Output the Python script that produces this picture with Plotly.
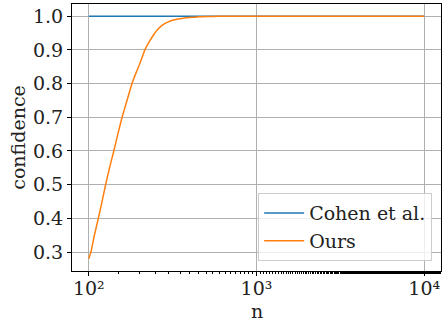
import plotly.graph_objects as go

n_ours = [100, 103, 108, 114, 120, 126, 133, 141, 149, 158, 169, 181, 190, 200, 208, 216, 228, 241, 255, 271, 287, 304, 325, 348, 373, 400, 428, 457, 500, 550, 620, 700, 850, 1000, 3000, 10000]
conf_ours = [0.28, 0.30, 0.35, 0.40, 0.45, 0.50, 0.55, 0.60, 0.65, 0.70, 0.75, 0.80, 0.828, 0.855, 0.878, 0.90, 0.922, 0.941, 0.958, 0.971, 0.979, 0.985, 0.989, 0.992, 0.9945, 0.996, 0.997, 0.998, 0.9987, 0.9992, 0.9996, 0.9998, 0.9999, 0.9999, 0.9999, 0.9999]
n_cohen = [100, 1000, 10000]
conf_cohen = [0.9995, 0.9995, 0.9995]
x_tickvals = [100, 1000, 10000]
x_ticktext = ["10²", "10³", "10⁴"]
y_tickvals = [0.3, 0.4, 0.5, 0.6, 0.7, 0.8, 0.9, 1.0]

fig = go.Figure()
fig.add_trace(go.Scatter(x=n_cohen, y=conf_cohen, mode="lines", name="Cohen et al.",
                         line=dict(color="#1f77b4", width=1.5)))
fig.add_trace(go.Scatter(x=n_ours, y=conf_ours, mode="lines", name="Ours",
                         line=dict(color="#ff7f0e", width=1.5, shape="spline", smoothing=0.3)))

font = dict(family="DejaVu Serif", size=19, color="#222")
fig.update_layout(
    width=442, height=322,
    margin=dict(l=72, r=1, t=4, b=51),
    paper_bgcolor="white", plot_bgcolor="white",
    font=font,
    showlegend=True,
    legend=dict(x=0.976, y=0.037, xanchor="right", yanchor="bottom",
                bgcolor="rgba(255,255,255,0.8)", bordercolor="#cccccc", borderwidth=1,
                font=font, tracegroupgap=0, itemwidth=40),
    annotations=[dict(text="n", xref="paper", yref="paper", x=0.5, y=-0.15,
                      xanchor="center", yanchor="middle", showarrow=False, font=font)],
)
fig.update_xaxes(
    type="log", range=[1.9, 4.1],
    tickvals=x_tickvals, ticktext=x_ticktext, tickfont=font,
    ticks="outside", ticklen=4, tickcolor="black", ticklabelstandoff=-4,
    showgrid=True, gridcolor="#b0b0b0", gridwidth=1,
    showline=True, linecolor="black", linewidth=1, mirror=True,
    zeroline=False,
    minor=dict(ticks="outside", ticklen=2, tickcolor="black", showgrid=False),
)
fig.update_yaxes(
    range=[0.244, 1.036],
    tickvals=y_tickvals, tickformat=".1f", tickfont=font,
    ticks="outside", ticklen=4, tickcolor="black",
    showgrid=True, gridcolor="#b0b0b0", gridwidth=1,
    showline=True, linecolor="black", linewidth=1, mirror=True,
    zeroline=False,
    title=dict(text="confidence", standoff=2, font=font),
)
fig.write_html("out.html")
